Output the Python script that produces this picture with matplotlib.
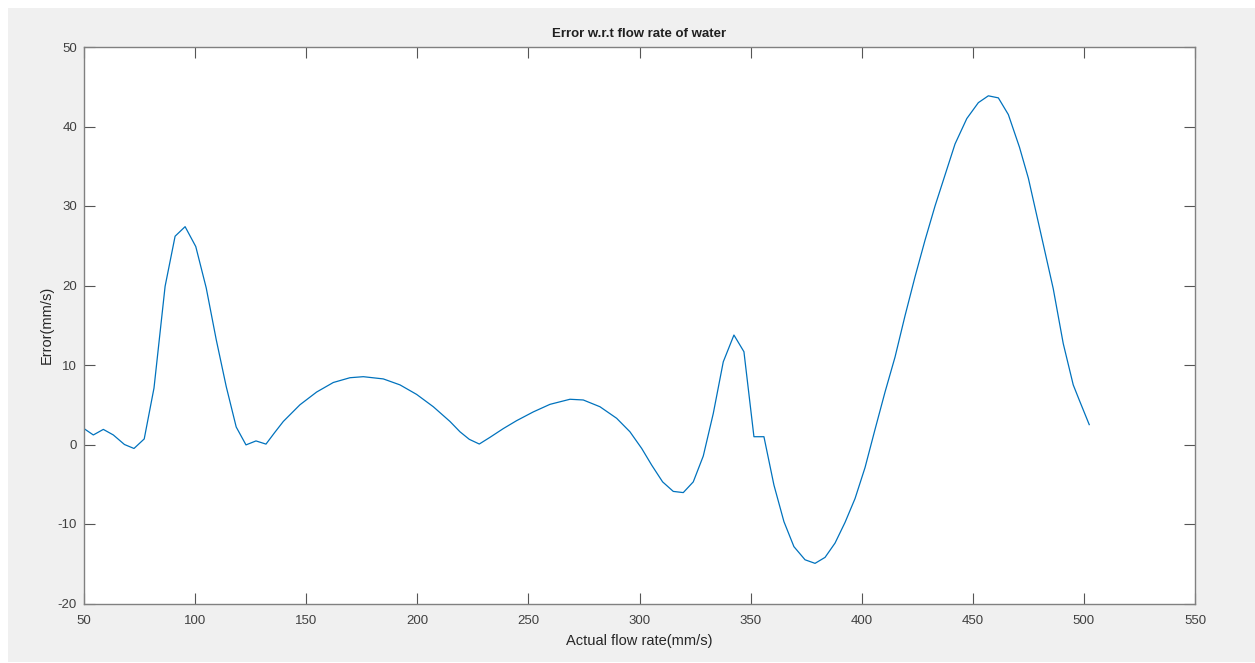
import matplotlib
matplotlib.use("Agg")
import matplotlib.pyplot as plt
from matplotlib.patches import Rectangle

# flow rate (mm/s) and error (mm/s)
flow_rate = [50, 54.2, 58.7, 63.2, 68.2, 72.5, 77.1, 81.5, 86.5, 91, 95.5,
             100.3, 105, 109.5, 114, 118.5, 122.9, 127.4, 131.9, 135.8,
             139.7, 147.2, 154.7, 162.2, 169.7, 175.7, 184.7, 192.2, 199.7,
             207.2, 214.7, 219.2, 223.4, 227.9, 232.7, 238.7, 244.7, 252.2,
             259.7, 268.7, 274.7, 282.2, 289.7, 295.7, 301, 305.5, 310.4,
             315.2, 319.7, 324.2, 328.7, 333.2, 337.7, 342.5, 347, 351.5,
             356, 360.5, 365, 369.5, 374.5, 379, 383.5, 388, 392.5, 397,
             401.5, 406, 410.5, 415, 419.5, 424, 428.5, 433, 437.5, 442,
             447.3, 452.5, 457, 461.5, 466, 471, 475, 481.7, 486.2, 490.7,
             495.2, 497.9, 502.4]
error = [2.0, 1.2, 1.9, 1.2, 0.0, -0.5, 0.7, 7.1, 19.9, 26.2, 27.4,
         24.9, 19.7, 13.2, 7.3, 2.2, -0.05, 0.45, 0.05, 1.5,
         2.9, 5.0, 6.6, 7.8, 8.4, 8.53, 8.25, 7.5, 6.3,
         4.75, 2.9, 1.6, 0.65, 0.06, 0.9, 2.0, 3.0, 4.1,
         5.05, 5.69, 5.6, 4.75, 3.3, 1.6, -0.5, -2.6, -4.7,
         -5.9, -6.05, -4.7, -1.45, 3.9, 10.4, 13.77, 11.67, 0.98,
         0.98, -5.1, -9.7, -12.85, -14.5, -14.95, -14.2, -12.4, -9.8, -6.8,
         -2.9, 1.9, 6.6, 11.0, 16.2, 21.1, 25.7, 30.0, 33.9, 37.8,
         41.0, 43.0, 43.86, 43.6, 41.5, 37.4, 33.5, 25.2, 19.6, 12.7,
         7.5, 5.6, 2.5]

xticks = [50, 100, 150, 200, 250, 300, 350, 400, 450, 500, 550]
yticks = [-20, -10, 0, 10, 20, 30, 40, 50]

plt.rcParams['font.family'] = ['Liberation Sans', 'DejaVu Sans']
plt.rcParams['axes.unicode_minus'] = False

W, H = 1255, 663
fig = plt.figure(figsize=(W / 100, H / 100), dpi=100)
fig.patch.set_facecolor("white")
fig.add_artist(Rectangle((8 / W, 1 / H), 1 - 8 / W, 1 - 9 / H,
                         transform=fig.transFigure, facecolor="#f0f0f0",
                         edgecolor="none", zorder=-10))

ax = fig.add_axes([84 / W, 1 - 603.5 / H, 1111 / W, 556.5 / H])
ax.set_facecolor("white")
ax.plot(flow_rate, error, color="#0072BD", linewidth=0.9)

ax.set_xlim(50, 550)
ax.set_ylim(-20, 50)
ax.set_xticks(xticks)
ax.set_yticks(yticks)

grey = "#808080"
for side in ax.spines.values():
    side.set_color(grey)
    side.set_linewidth(1.0)
ax.tick_params(direction="in", length=8, width=0.8, color="#555555",
               top=True, right=True, labelsize=9.5, labelcolor="#404040", pad=5)
ax.tick_params(axis="x", pad=8)

ax.set_title("Error w.r.t flow rate of water", fontsize=9.5,
             fontweight="bold", color="#202020", pad=7)
ax.set_xlabel("Actual flow rate(mm/s)", fontsize=10.5, color="#262626",
              labelpad=5)
ax.set_ylabel("Error(mm/s)", fontsize=10.5, color="#262626", labelpad=3)

plt.savefig("out.png", dpi=100, facecolor=fig.get_facecolor())
plt.close()
